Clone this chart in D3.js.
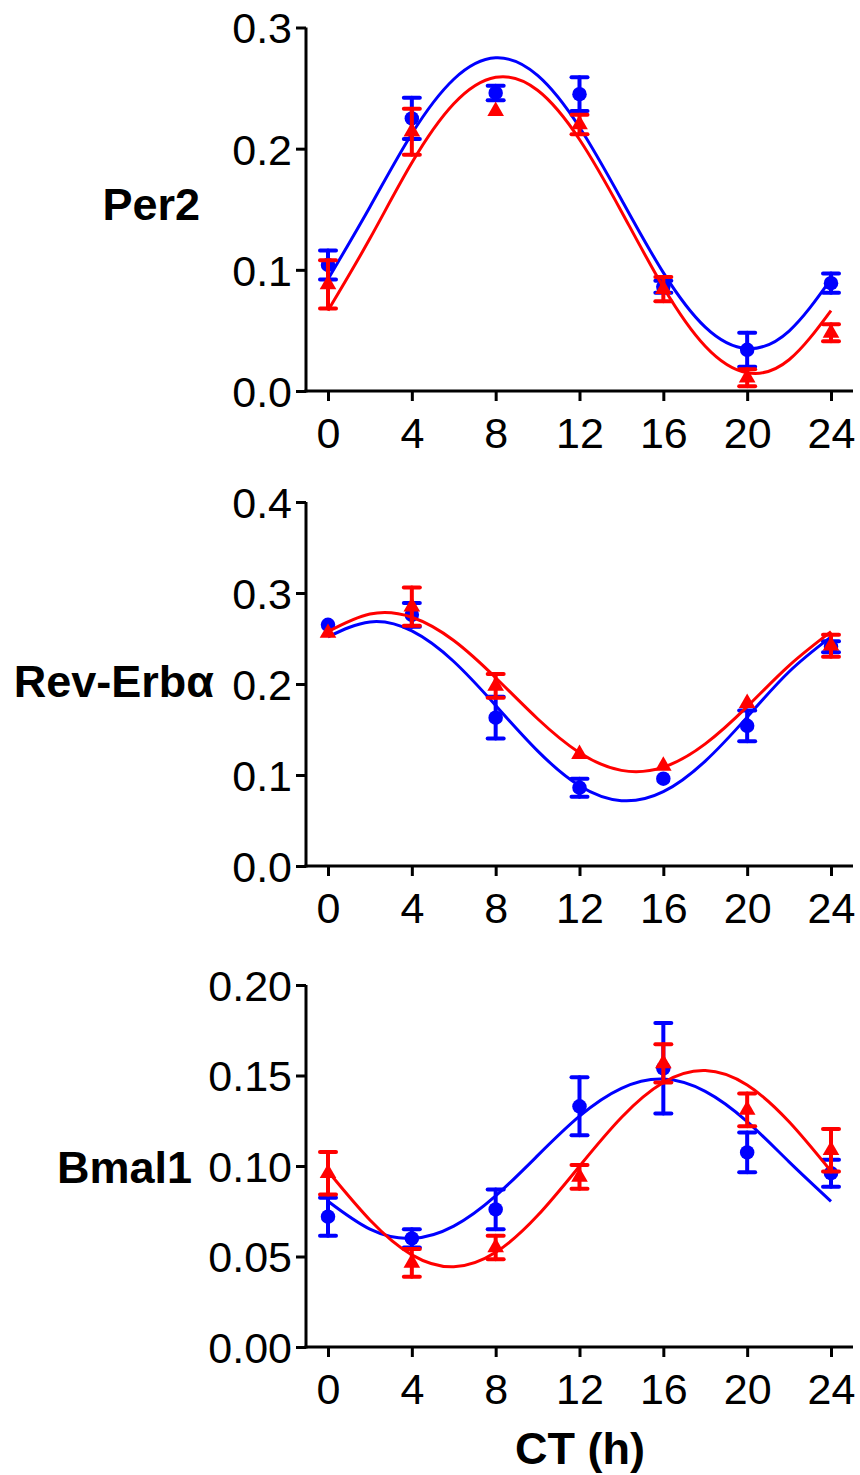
<!DOCTYPE html>
<html>
<head>
<meta charset="utf-8">
<script src="https://cdn.jsdelivr.net/npm/d3@7"></script>
<style>
  html, body { margin: 0; padding: 0; background: #fff; }
  svg { display: block; }
  text { font-family: "Liberation Sans", Arial, sans-serif; }
</style>
</head>
<body>
<svg id="chart" width="860" height="1475"></svg>
<script>
// ---------------- data ----------------
const hours = [0, 4, 8, 12, 16, 20, 24];
const fitHours = [0, 2, 4, 6, 8, 10, 12, 14, 16, 18, 20, 22, 24];
const xTicks = [0, 4, 8, 12, 16, 20, 24];

const geneNames = ["Per2", "Rev-Erbα", "Bmal1"];

// Per2
const per2Blue    = [0.104, 0.225, 0.246, 0.245, 0.086, 0.034, 0.089];
const per2BlueErr = [0.012, 0.017, 0.006, 0.014, 0.005, 0.014, 0.008];
const per2Red     = [0.088, 0.214, 0.231, 0.220, 0.084, 0.011, 0.048];
const per2RedErr  = [0.020, 0.019, 0, 0.008, 0.010, 0.007, 0.007];
const per2BlueFit = [0.0923, 0.1519, 0.2123, 0.2573, 0.2750, 0.2605, 0.2177, 0.1581, 0.0977, 0.0527, 0.0350, 0.0495, 0.0923];
const per2RedFit  = [0.0664, 0.1258, 0.1883, 0.2370, 0.2589, 0.2482, 0.2076, 0.1482, 0.0857, 0.0370, 0.0151, 0.0258, 0.0664];
const per2Ticks   = [0.0, 0.1, 0.2, 0.3];

// Rev-Erbα
const revBlue    = [0.265, 0.276, 0.163, 0.086, 0.096, 0.154, 0.241];
const revBlueErr = [0, 0.013, 0.023, 0.010, 0, 0.017, 0.006];
const revRed     = [0.256, 0.285, 0.198, 0.123, 0.110, 0.179, 0.242];
const revRedErr  = [0, 0.021, 0.013, 0, 0, 0, 0.012];
const revBlueFit = [0.2518, 0.2682, 0.2583, 0.2247, 0.1764, 0.1265, 0.0882, 0.0718, 0.0817, 0.1153, 0.1636, 0.2135, 0.2518];
const revRedFit  = [0.2575, 0.2769, 0.2734, 0.2478, 0.2069, 0.1618, 0.1245, 0.1051, 0.1086, 0.1342, 0.1751, 0.2202, 0.2575];
const revTicks   = [0.0, 0.1, 0.2, 0.3, 0.4];

// Bmal1
const bmalBlue    = [0.072, 0.060, 0.076, 0.133, 0.154, 0.1075, 0.096];
const bmalBlueErr = [0.0105, 0.005, 0.011, 0.016, 0.025, 0.011, 0.0075];
const bmalRed     = [0.096, 0.0465, 0.055, 0.094, 0.1567, 0.131, 0.1087];
const bmalRedErr  = [0.0117, 0.0077, 0.0065, 0.0065, 0.0105, 0.009, 0.0118];
const bmalBlueFit = [0.0805, 0.0651, 0.0600, 0.0668, 0.0835, 0.1057, 0.1275, 0.1429, 0.1480, 0.1412, 0.1245, 0.1023, 0.0805];
const bmalRedFit  = [0.0971, 0.0702, 0.0509, 0.0443, 0.0523, 0.0726, 0.0999, 0.1268, 0.1461, 0.1527, 0.1447, 0.1244, 0.0971];
const bmalTicks   = [0.00, 0.05, 0.10, 0.15, 0.20];

const xLabel = "CT (h)";

// ---------------- layout ----------------
const BLUE = "#0000ff", RED = "#ff0000";
const FONT = 43, BOLD_FONT = 45;
const axisX = 306, axisRight = 853;
const xLeft = 328, xRight = 831;

const panels = [
  { name: geneNames[0], blue: per2Blue, blueErr: per2BlueErr, red: per2Red, redErr: per2RedErr,
    blueFit: per2BlueFit, redFit: per2RedFit, ticks: per2Ticks, fmt: ".1f",
    yTop: 27.5, yBottom: 391, labelRight: 200, labelY: 204 },
  { name: geneNames[1], blue: revBlue, blueErr: revBlueErr, red: revRed, redErr: revRedErr,
    blueFit: revBlueFit, redFit: revRedFit, ticks: revTicks, fmt: ".1f",
    yTop: 502, yBottom: 866, labelRight: 214, labelY: 681 },
  { name: geneNames[2], blue: bmalBlue, blueErr: bmalBlueErr, red: bmalRed, redErr: bmalRedErr,
    blueFit: bmalBlueFit, redFit: bmalRedFit, ticks: bmalTicks, fmt: ".2f",
    yTop: 985, yBottom: 1347, labelRight: 192, labelY: 1167 }
];

const svg = d3.select("#chart");
const x = d3.scaleLinear().domain([0, 24]).range([xLeft, xRight]);

panels.forEach(p => {
  const g = svg.append("g");
  const yMax = p.ticks[p.ticks.length - 1];
  const y = d3.scaleLinear().domain([0, yMax]).range([p.yBottom, p.yTop]);

  // y axis
  const yAxis = g.append("g")
    .attr("transform", `translate(${axisX},0)`)
    .call(d3.axisLeft(y).tickValues(p.ticks).tickFormat(d3.format(p.fmt))
      .tickSize(10).tickSizeOuter(0).tickPadding(4));
  yAxis.select(".domain").attr("stroke", "#000").attr("stroke-width", 3)
    .attr("d", `M0,${p.yTop}V${p.yBottom + 1.5}`);
  yAxis.selectAll(".tick line").attr("stroke", "#000").attr("stroke-width", 3);
  yAxis.selectAll(".tick text").attr("font-size", FONT).attr("fill", "#000")
    .attr("dy", "0.36em");

  // x axis
  const xAxis = g.append("g")
    .attr("transform", `translate(0,${p.yBottom})`)
    .call(d3.axisBottom(x).tickValues(xTicks).tickFormat(d3.format("d"))
      .tickSize(10).tickSizeOuter(0).tickPadding(16));
  xAxis.select(".domain").attr("stroke", "#000").attr("stroke-width", 3)
    .attr("d", `M${axisX - 1.5},0H${axisRight}`);
  xAxis.selectAll(".tick line").attr("stroke", "#000").attr("stroke-width", 3);
  xAxis.selectAll(".tick text").attr("font-size", FONT).attr("fill", "#000");

  // gene label
  g.append("text")
    .attr("x", p.labelRight).attr("y", p.labelY)
    .attr("text-anchor", "end").attr("dy", "0.36em")
    .attr("font-size", BOLD_FONT).attr("font-weight", "bold")
    .text(p.name);

  const line = d3.line().x((d, i) => x(fitHours[i])).y(d => y(d)).curve(d3.curveNatural);

  const drawSeries = (vals, errs, fit, color, shape) => {
    const s = g.append("g");
    s.append("path").datum(fit).attr("d", line)
      .attr("fill", "none").attr("stroke", color).attr("stroke-width", 3);
    const pts = vals.map((v, i) => ({ h: hours[i], v, e: errs[i] }));
    const eb = s.selectAll(".eb").data(pts.filter(d => d.e > 0)).enter().append("g")
      .attr("stroke", color).attr("stroke-width", 4).attr("stroke-linecap", "round");
    eb.append("line")
      .attr("x1", d => x(d.h)).attr("x2", d => x(d.h))
      .attr("y1", d => y(d.v + d.e)).attr("y2", d => y(d.v - d.e));
    eb.append("line")
      .attr("x1", d => x(d.h) - 8).attr("x2", d => x(d.h) + 8)
      .attr("y1", d => y(d.v + d.e)).attr("y2", d => y(d.v + d.e));
    eb.append("line")
      .attr("x1", d => x(d.h) - 8).attr("x2", d => x(d.h) + 8)
      .attr("y1", d => y(d.v - d.e)).attr("y2", d => y(d.v - d.e));
    s.selectAll(".pt").data(pts).enter().append("path")
      .attr("transform", d => `translate(${x(d.h)},${y(d.v)})`)
      .attr("d", d3.symbol().type(shape).size(shape === d3.symbolCircle ? 165 : 120))
      .attr("fill", color);
  };

  drawSeries(p.blue, p.blueErr, p.blueFit, BLUE, d3.symbolCircle);
  drawSeries(p.red, p.redErr, p.redFit, RED, d3.symbolTriangle);
});

// x axis title
svg.append("text")
  .attr("x", (xLeft + xRight) / 2 + 0.5).attr("y", 1448)
  .attr("text-anchor", "middle").attr("dy", "0.36em")
  .attr("font-size", BOLD_FONT).attr("font-weight", "bold")
  .text(xLabel);
</script>
</body>
</html>
